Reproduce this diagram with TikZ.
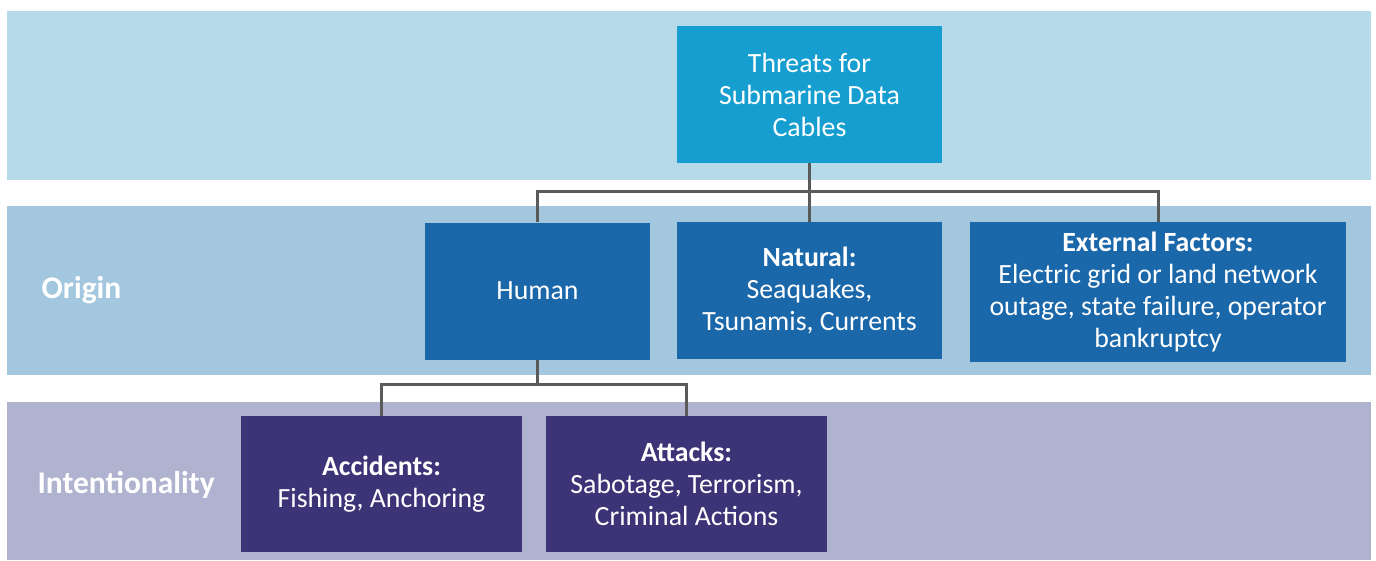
\documentclass[tikz,border=0pt]{standalone}
\usepackage{fontspec}
\setmainfont{Carlito}
\usetikzlibrary{positioning}
\definecolor{bandtop}{HTML}{B6DAE9}
\definecolor{bandmid}{HTML}{A3C7DE}
\definecolor{bandlow}{HTML}{AFB3D0}
\definecolor{rootblue}{HTML}{159ECF}
\definecolor{originblue}{HTML}{1A67AA}
\definecolor{intpurple}{HTML}{3C3476}
\definecolor{linkgray}{HTML}{5A5A5A}
\begin{document}
\begin{tikzpicture}[x=1pt,y=-1pt,
    box/.style={rectangle,inner sep=0pt,align=center,text=white,
        font=\fontsize{27.8}{32}\selectfont},
    rootbox/.style={box,fill=rootblue},
    originbox/.style={box,fill=originblue},
    intbox/.style={box,fill=intpurple},
    rowlabel/.style={anchor=west,text=white,font=\fontsize{31.5}{36}\selectfont\bfseries},
    link/.style={draw=linkgray,line width=3pt}]
\useasboundingbox (0,0) rectangle (1376,560);
\fill[bandtop] (7,11) rectangle (1371,180);
\fill[bandmid] (7,206) rectangle (1371,375);
\fill[bandlow] (7,402) rectangle (1371,560);
\node (origin) [rowlabel] at (38,290) {Origin};
\node (intent) [rowlabel] at (34,485) {Intentionality};
\node (top) [rootbox,minimum width=265pt,minimum height=137pt] at (809.5,94.5)
    {Threats for\\Submarine Data\\Cables};
\node (human) [originbox,minimum width=225pt,minimum height=137pt] at (537.5,291)
    {Human};
\node (natural) [originbox,minimum width=265pt,minimum height=137pt] at (809.5,290.5)
    {\textbf{Natural:}\\Seaquakes,\\Tsunamis, Currents};
\node (external) [originbox,minimum width=376pt,minimum height=140pt] at (1158,292)
    {\textbf{External Factors:}\\Electric grid or land network\\outage, state failure, operator\\bankruptcy};
\node (accidents) [intbox,minimum width=281pt,minimum height=136pt] at (381.5,484)
    {\textbf{Accidents:}\\Fishing, Anchoring};
\node (attacks) [intbox,minimum width=281pt,minimum height=136pt] at (686.5,484)
    {\textbf{Attacks:}\\Sabotage, Terrorism,\\Criminal Actions};
\coordinate (bus) at (0,191);
\coordinate (subbus) at (0,384);
\draw[link] (top.south) -- (natural.north);
\draw[link] (top.south |- bus) -| (human.north);
\draw[link] (top.south |- bus) -| (external.north);
\draw[link] (human.south) -- (human.south |- subbus) -| (accidents.north);
\draw[link] (human.south |- subbus) -| (attacks.north);
\end{tikzpicture}
\end{document}
